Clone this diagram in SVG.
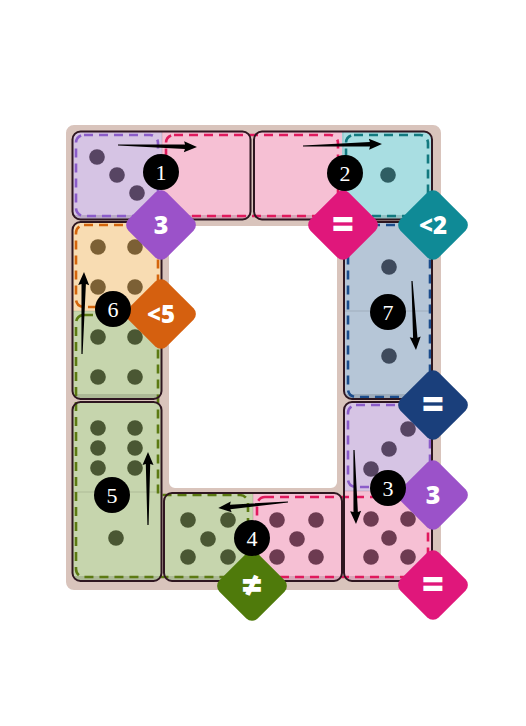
<svg xmlns="http://www.w3.org/2000/svg" width="526" height="726" viewBox="0 0 526 726">
<style>
.dom{fill:none;stroke:#2e1620;stroke-width:2}
.shade{fill:#000;opacity:.13}
.div{stroke:#000;stroke-opacity:.12;stroke-width:1}
.reg{fill:none;stroke-width:2.6;stroke-dasharray:9 6;stroke-linecap:butt}
.purple{fill:#d6c4e4}.pink{fill:#f6c0d4}.teal{fill:#a9dee2}.orange{fill:#f8dcb2}.green{fill:#c6d5ad}.blue{fill:#b6c6d7}
.pp{fill:#574563}.pk{fill:#6d3b51}.tp{fill:#2f5e63}.op{fill:#7c6035}.gp{fill:#4a5733}.bp{fill:#3e4a5c}
.badge text{font-family:"Open Sans","DejaVu Sans",sans-serif;font-weight:800;fill:#fff;text-anchor:middle}
.num circle{fill:#000}
.num text{font-family:"Liberation Serif",serif;font-size:22px;fill:#fff;text-anchor:middle}
.arrow{fill:#000}
</style>
<defs>
<clipPath id="c1"><rect x="72.5" y="131.5" width="178" height="88" rx="8"/></clipPath>
<clipPath id="c2"><rect x="254" y="131.5" width="178" height="88" rx="8"/></clipPath>
<clipPath id="c6"><rect x="72.5" y="222" width="89" height="177" rx="8"/></clipPath>
<clipPath id="c5"><rect x="72.5" y="402" width="89" height="179" rx="8"/></clipPath>
<clipPath id="c7"><rect x="344" y="222" width="88" height="177" rx="8"/></clipPath>
<clipPath id="c3"><rect x="344" y="402" width="88" height="179" rx="8"/></clipPath>
<clipPath id="c4"><rect x="164" y="493" width="178" height="88" rx="8"/></clipPath>
</defs>

<rect width="526" height="726" fill="#fff"/>
<path id="board" fill="#d9c4bc" fill-rule="evenodd" d="M74,125H433A8,8 0 0 1 441,133V582A8,8 0 0 1 433,590H74A8,8 0 0 1 66,582V133A8,8 0 0 1 74,125Z M175,226H331A6,6 0 0 1 337,232V482A6,6 0 0 1 331,488H175A6,6 0 0 1 169,482V232A6,6 0 0 1 175,226Z"/>

<g id="domino-1">
<g clip-path="url(#c1)">
<rect class="purple" x="72" y="131" width="90" height="90"/>
<rect class="pink" x="162" y="131" width="90" height="90"/>
<rect class="shade" x="72" y="215" width="180" height="6"/>
<line class="div" x1="162" y1="131" x2="162" y2="220"/>
</g>
<circle class="pp" cx="97" cy="157" r="7.8"/><circle class="pp" cx="117" cy="175" r="7.8"/><circle class="pp" cx="137" cy="193" r="7.8"/>
</g>
<g id="domino-2">
<g clip-path="url(#c2)">
<rect class="pink" x="252" y="131" width="90" height="90"/>
<rect class="teal" x="342" y="131" width="92" height="90"/>
<rect class="shade" x="252" y="215" width="182" height="6"/>
<line class="div" x1="343" y1="131" x2="343" y2="220"/>
</g>
<circle class="tp" cx="388" cy="175" r="7.8"/>
</g>
<g id="domino-6">
<g clip-path="url(#c6)">
<rect class="orange" x="72" y="222" width="90" height="89"/>
<rect class="green" x="72" y="311" width="90" height="89"/>
<rect class="shade" x="72" y="394" width="90" height="6"/>
<line class="div" x1="72" y1="311" x2="162" y2="311"/>
</g>
<circle class="op" cx="98" cy="247" r="7.8"/><circle class="op" cx="135" cy="247" r="7.8"/><circle class="op" cx="98" cy="287" r="7.8"/><circle class="op" cx="135" cy="287" r="7.8"/>
<circle class="gp" cx="98" cy="337" r="7.8"/><circle class="gp" cx="135" cy="337" r="7.8"/><circle class="gp" cx="98" cy="377" r="7.8"/><circle class="gp" cx="135" cy="377" r="7.8"/>
</g>
<g id="domino-5">
<g clip-path="url(#c5)">
<rect class="green" x="72" y="402" width="90" height="180"/>
<rect class="shade" x="72" y="576" width="90" height="6"/>
<line class="div" x1="72" y1="492" x2="162" y2="492"/>
</g>
<circle class="gp" cx="98" cy="428" r="7.8"/><circle class="gp" cx="135" cy="428" r="7.8"/><circle class="gp" cx="98" cy="448" r="7.8"/><circle class="gp" cx="135" cy="448" r="7.8"/><circle class="gp" cx="98" cy="468" r="7.8"/><circle class="gp" cx="135" cy="468" r="7.8"/>
<circle class="gp" cx="116" cy="538" r="7.8"/>
</g>
<g id="domino-7">
<g clip-path="url(#c7)">
<rect class="blue" x="344" y="222" width="90" height="178"/>
<rect class="shade" x="344" y="394" width="90" height="6"/>
<line class="div" x1="344" y1="311" x2="432" y2="311"/>
</g>
<circle class="bp" cx="389" cy="267" r="7.8"/><circle class="bp" cx="389" cy="356" r="7.8"/>
</g>
<g id="domino-3">
<g clip-path="url(#c3)">
<rect class="purple" x="344" y="402" width="90" height="89"/>
<rect class="pink" x="344" y="491" width="90" height="91"/>
<rect class="shade" x="344" y="576" width="90" height="6"/>
<line class="div" x1="344" y1="491" x2="432" y2="491"/>
</g>
<circle class="pp" cx="408" cy="429" r="7.8"/><circle class="pp" cx="389" cy="449" r="7.8"/><circle class="pp" cx="371" cy="469" r="7.8"/>
<circle class="pk" cx="371" cy="519" r="7.8"/><circle class="pk" cx="408" cy="519" r="7.8"/><circle class="pk" cx="389" cy="538" r="7.8"/><circle class="pk" cx="371" cy="557" r="7.8"/><circle class="pk" cx="408" cy="557" r="7.8"/>
</g>
<g id="domino-4">
<g clip-path="url(#c4)">
<rect class="green" x="164" y="493" width="89" height="89"/>
<rect class="pink" x="253" y="493" width="90" height="89"/>
<rect class="shade" x="164" y="576" width="180" height="6"/>
<line class="div" x1="253" y1="493" x2="253" y2="581"/>
</g>
<circle class="gp" cx="188" cy="520" r="7.8"/><circle class="gp" cx="228" cy="520" r="7.8"/><circle class="gp" cx="208" cy="539" r="7.8"/><circle class="gp" cx="188" cy="557" r="7.8"/><circle class="gp" cx="228" cy="557" r="7.8"/>
<circle class="pk" cx="277" cy="520" r="7.8"/><circle class="pk" cx="316" cy="520" r="7.8"/><circle class="pk" cx="297" cy="539" r="7.8"/><circle class="pk" cx="277" cy="557" r="7.8"/><circle class="pk" cx="316" cy="557" r="7.8"/>
</g>

<g id="regions">
<rect class="reg" stroke="#8b5cc9" x="76" y="135" width="82" height="81" rx="8"/>
<rect class="reg" stroke="#e0195d" x="166" y="135" width="172" height="81" rx="8"/>
<rect class="reg" stroke="#12797f" x="346" y="135" width="82" height="81" rx="8"/>
<rect class="reg" stroke="#d4650c" x="76" y="225" width="82" height="82" rx="8"/>
<path class="reg" stroke="#5b7a12" d="M84,315H150A8,8 0 0 1 158,323V495H240A8,8 0 0 1 248,503V569A8,8 0 0 1 240,577H84A8,8 0 0 1 76,569V323A8,8 0 0 1 84,315Z"/>
<rect class="reg" stroke="#1b4c8c" x="348" y="225" width="82" height="172" rx="8"/>
<rect class="reg" stroke="#8b5cc9" x="348" y="405" width="82" height="82" rx="8"/>
<rect class="reg" stroke="#e0195d" x="257" y="497" width="171" height="80" rx="8"/>
</g>

<g id="outlines">
<rect class="dom" x="72.5" y="131.5" width="178" height="88" rx="8"/>
<rect class="dom" x="254" y="131.5" width="178" height="88" rx="8"/>
<rect class="dom" x="72.5" y="222" width="89" height="177" rx="8"/>
<rect class="dom" x="72.5" y="402" width="89" height="179" rx="8"/>
<rect class="dom" x="344" y="222" width="88" height="177" rx="8"/>
<rect class="dom" x="344" y="402" width="88" height="179" rx="8"/>
<rect class="dom" x="164" y="493" width="178" height="88" rx="8"/>
</g>

<g id="connectors">
<path class="arrow" transform="translate(118,145) rotate(1.45)" d="M0,-.6L67,-2.2L66,-5.5L79,0L66,5.5L67,2.2L0,.6Z"/>
<path class="arrow" transform="translate(303,146) rotate(-1.45)" d="M0,-.6L67,-2.2L66,-5.5L79,0L66,5.5L67,2.2L0,.6Z"/>
<path class="arrow" transform="translate(354,450) rotate(88.45)" d="M0,-.6L62,-2.2L61,-5.5L74,0L61,5.5L62,2.2L0,.6Z"/>
<path class="arrow" transform="translate(288,502) rotate(175.1)" d="M0,-.6L58,-2.2L57,-5.5L70,0L57,5.5L58,2.2L0,.6Z"/>
<path class="arrow" transform="translate(148,525) rotate(-90)" d="M0,-.6L61,-2.2L60,-5.5L73,0L60,5.5L61,2.2L0,.6Z"/>
<path class="arrow" transform="translate(82,354) rotate(-88.6)" d="M0,-.6L70,-2.2L69,-5.5L82,0L69,5.5L70,2.2L0,.6Z"/>
<path class="arrow" transform="translate(412,281) rotate(86.7)" d="M0,-.6L57,-2.2L56,-5.5L69,0L56,5.5L57,2.2L0,.6Z"/>
</g>

<g id="badge-purple-1" class="badge">
<rect x="-27" y="-27" width="54" height="54" rx="8" fill="#9b52c9" transform="translate(161,225) rotate(45)"/>
<text x="161" y="234" font-size="25">3</text>
</g>
<g id="badge-pink-1" class="badge">
<rect x="-27" y="-27" width="54" height="54" rx="8" fill="#e0177b" transform="translate(343,225) rotate(45)"/>
<text x="343" y="238" font-size="38">=</text>
</g>
<g id="badge-teal" class="badge">
<rect x="-27" y="-27" width="54" height="54" rx="8" fill="#0f8a96" transform="translate(433,225) rotate(45)"/>
<text x="433" y="234" font-size="24">&lt;2</text>
</g>
<g id="badge-orange" class="badge">
<rect x="-27" y="-27" width="54" height="54" rx="8" fill="#d5600f" transform="translate(161,314) rotate(45)"/>
<text x="161" y="323" font-size="24">&lt;5</text>
</g>
<g id="badge-blue" class="badge">
<rect x="-27" y="-27" width="54" height="54" rx="8" fill="#1a3f7b" transform="translate(433,405) rotate(45)"/>
<text x="433" y="418" font-size="38">=</text>
</g>
<g id="badge-purple-2" class="badge">
<rect x="-27" y="-27" width="54" height="54" rx="8" fill="#9b52c9" transform="translate(433,495) rotate(45)"/>
<text x="433" y="504" font-size="25">3</text>
</g>
<g id="badge-pink-2" class="badge">
<rect x="-27" y="-27" width="54" height="54" rx="8" fill="#e0177b" transform="translate(433,585) rotate(45)"/>
<text x="433" y="598" font-size="38">=</text>
</g>
<g id="badge-green" class="badge">
<rect x="-27" y="-27" width="54" height="54" rx="8" fill="#4f7a0b" transform="translate(252,586) rotate(45)"/>
<text x="252" y="598" font-size="36">≠</text>
</g>

<g id="step-1" class="num"><circle cx="161" cy="172" r="18"/><text x="161" y="180">1</text></g>
<g id="step-2" class="num"><circle cx="345" cy="173" r="18"/><text x="345" y="181">2</text></g>
<g id="step-3" class="num"><circle cx="388" cy="488" r="18"/><text x="388" y="496">3</text></g>
<g id="step-4" class="num"><circle cx="252" cy="538" r="18"/><text x="252" y="546">4</text></g>
<g id="step-5" class="num"><circle cx="112" cy="495" r="18"/><text x="112" y="503">5</text></g>
<g id="step-6" class="num"><circle cx="113" cy="309" r="18"/><text x="113" y="317">6</text></g>
<g id="step-7" class="num"><circle cx="388" cy="312" r="18"/><text x="388" y="320">7</text></g>
</svg>
